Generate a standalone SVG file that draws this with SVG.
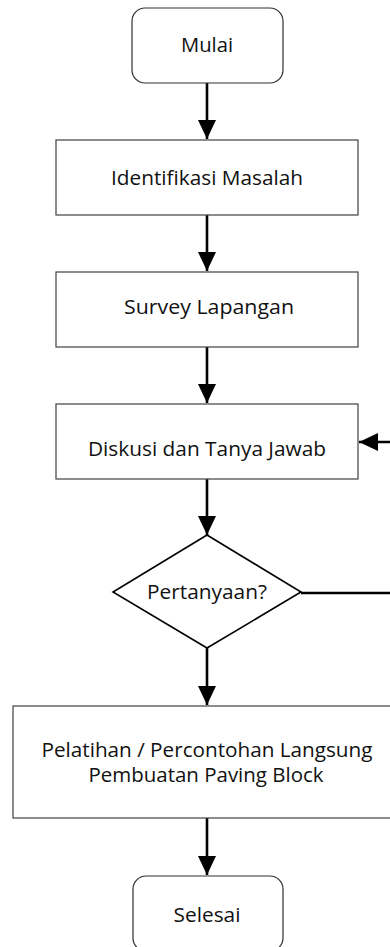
<svg xmlns="http://www.w3.org/2000/svg" width="390" height="947" viewBox="0 0 390 947">
<style>
.box{fill:#fff;stroke:#404040;stroke-width:1.2}
.term{fill:#fff;stroke:#303030;stroke-width:1.2}
.dec{fill:#fff;stroke:#000;stroke-width:1.6}
.lbl{font-family:"Open Sans","Noto Sans",sans-serif;font-size:20px;fill:#111;text-anchor:middle}
.conn{fill:none;stroke:#000;stroke-width:2.6}
</style>
<defs>
<marker id="ah" markerUnits="userSpaceOnUse" markerWidth="20" markerHeight="20" viewBox="0 0 20 20" refX="19" refY="10" orient="auto">
<path d="M0,1 L19,10 L0,19 Z" fill="#000"/>
</marker>
</defs>
<rect width="390" height="947" fill="#fff"/>
<g id="connectors">
<line class="conn" x1="207" y1="83" x2="207" y2="139" marker-end="url(#ah)"/>
<line class="conn" x1="207" y1="215" x2="207" y2="271" marker-end="url(#ah)"/>
<line class="conn" x1="207" y1="347" x2="207" y2="403" marker-end="url(#ah)"/>
<line class="conn" x1="207" y1="479" x2="207" y2="535" marker-end="url(#ah)"/>
<line class="conn" x1="207" y1="648" x2="207" y2="705" marker-end="url(#ah)"/>
<line class="conn" x1="207" y1="818" x2="207" y2="875" marker-end="url(#ah)"/>
<path class="conn" d="M301,593 H400 V442 H359" marker-end="url(#ah)"/>
</g>
<g id="mulai">
<rect class="term" x="132" y="8" width="151" height="75" rx="13"/>
<text class="lbl" x="207" y="52" textLength="52" lengthAdjust="spacingAndGlyphs">Mulai</text>
</g>
<g id="identifikasi">
<rect class="box" x="56" y="140" width="302" height="75"/>
<text class="lbl" x="207" y="185" textLength="192" lengthAdjust="spacingAndGlyphs">Identifikasi Masalah</text>
</g>
<g id="survey">
<rect class="box" x="56" y="272" width="302" height="75"/>
<text class="lbl" x="209" y="314" textLength="170" lengthAdjust="spacingAndGlyphs">Survey Lapangan</text>
</g>
<g id="diskusi">
<rect class="box" x="56" y="404" width="302" height="75"/>
<text class="lbl" x="207" y="456" textLength="238" lengthAdjust="spacingAndGlyphs">Diskusi dan Tanya Jawab</text>
</g>
<g id="pertanyaan">
<polygon class="dec" points="207,535 301,592 207,648 113,592"/>
<text class="lbl" x="207" y="599" textLength="120" lengthAdjust="spacingAndGlyphs">Pertanyaan?</text>
</g>
<g id="pelatihan">
<rect class="box" x="13" y="706" width="400" height="112"/>
<text class="lbl" x="207" y="757" textLength="331" lengthAdjust="spacingAndGlyphs">Pelatihan / Percontohan Langsung</text>
<text class="lbl" x="206" y="782" textLength="235" lengthAdjust="spacingAndGlyphs">Pembuatan Paving Block</text>
</g>
<g id="selesai">
<rect class="term" x="133" y="876" width="150" height="75" rx="13"/>
<text class="lbl" x="207" y="922" textLength="67" lengthAdjust="spacingAndGlyphs">Selesai</text>
</g>
</svg>
